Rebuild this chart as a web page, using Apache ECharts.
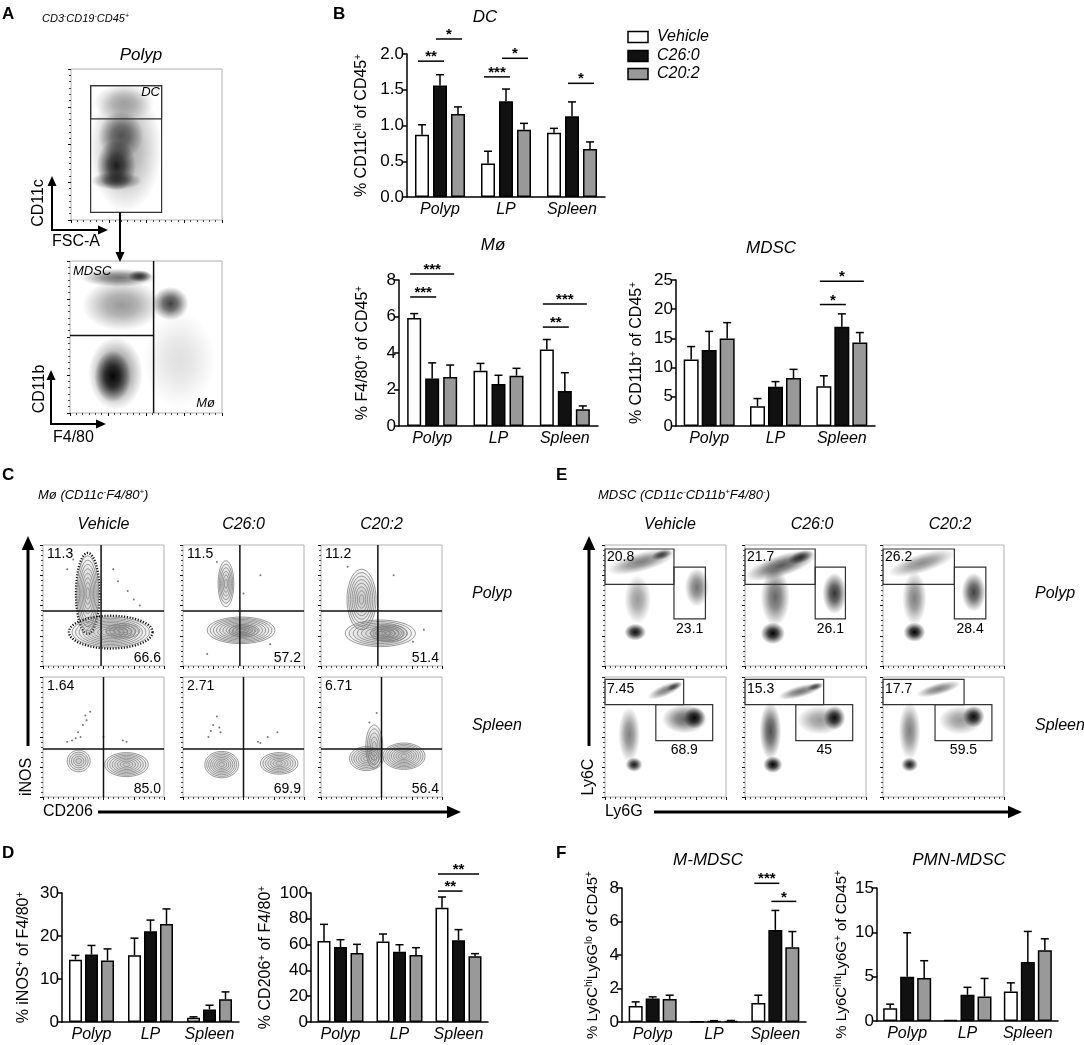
<!DOCTYPE html>
<html>
<head>
<meta charset="utf-8">
<script src="https://cdn.jsdelivr.net/npm/echarts@6/dist/echarts.min.js"></script>
<style>
html,body{margin:0;padding:0;background:#fff;}
#main{width:1084px;height:1045px;}
</style>
</head>
<body>
<div id="main"></div>
<script>
var FONT = "'Liberation Sans', Arial, sans-serif";

// ---- categories
var tissues = ['Polyp', 'LP', 'Spleen'];
var groupNames = ['Vehicle', 'C26:0', 'C20:2'];

// ---- bar data: rows = Vehicle, C26:0, C20:2 ; columns = Polyp, LP, Spleen
var dcMean = [[0.87, 0.47, 0.90], [1.56, 1.34, 1.13], [1.16, 0.94, 0.67]];
var dcSem = [[0.14, 0.17, 0.06], [0.15, 0.17, 0.20], [0.10, 0.09, 0.10]];
var dcSig = [[0, 0, 1, 1.90, '**'], [0, 1, 2, 2.21, '*'], [1, 0, 1, 1.68, '***'], [1, 1, 2, 1.94, '*'], [2, 1, 2, 1.59, '*']];

var macMean = [[5.92, 3.03, 4.19], [2.60, 2.30, 1.92], [2.68, 2.76, 0.92]];
var macSem = [[0.24, 0.40, 0.55], [0.86, 0.48, 1.00], [0.66, 0.40, 0.18]];
var macSig = [[0, 0, 2, 8.33, '***'], [0, 0, 1, 7.07, '***'], [2, 0, 2, 6.68, '***'], [2, 0, 1, 5.42, '**']];

var mdscMean = [[11.4, 3.4, 6.8], [13.0, 6.7, 17.0], [15.0, 8.2, 14.3]];
var mdscSem = [[2.2, 1.3, 1.8], [3.2, 0.9, 2.2], [2.7, 1.5, 1.7]];
var mdscSig = [[2, 0, 2, 24.8, '*'], [2, 0, 1, 20.8, '*']];

var inosMean = [[14.5, 15.5, 1.0], [15.7, 21.1, 2.9], [14.3, 22.8, 5.3]];
var inosSem = [[1.0, 4.0, 0.2], [2.1, 2.6, 1.0], [2.7, 3.5, 1.7]];

var cd206Mean = [[62.8, 62.5, 88.6], [58.1, 54.5, 63.3], [53.5, 51.9, 50.9]];
var cd206Sem = [[12.9, 5.7, 8.3], [5.7, 5.4, 8.3], [6.7, 5.7, 2.1]];
var cd206Sig = [[2, 0, 2, 114.7, '**'], [2, 0, 1, 101.5, '**']];

var mmdscMean = [[0.96, 0.02, 1.14], [1.40, 0.05, 5.50], [1.38, 0.06, 4.46]];
var mmdscSem = [[0.24, 0, 0.46], [0.10, 0.03, 1.16], [0.22, 0.03, 0.94]];
var mmdscSig = [[2, 0, 1, 8.28, '***'], [2, 1, 2, 7.2, '*']];

var pmnMean = [[1.44, 0.10, 3.34], [5.00, 2.96, 6.65], [4.86, 2.77, 7.98]];
var pmnSem = [[0.46, 0, 0.96], [4.95, 0.84, 3.45], [1.94, 2.03, 1.29]];

// ---- flow plots, in % of plot axes: dot clouds [x, y, rx, ry, angle, density]
var aTopClouds = [[36, 47, 24, 42, 0, 0.35], [35, 78, 20, 12, 0, 0.3], [33, 56, 15, 16, 0, 0.55], [30, 36, 13, 17, 0, 0.85], [30, 26, 17, 6, 0, 0.6]];
var aBotClouds = [[72, 35, 24, 32, 0, 0.12], [34, 71, 26, 17, 0, 0.4], [30, 26, 18, 24, 0, 0.55], [28, 24, 12, 17, 0, 0.95], [32, 89, 25, 6, 0, 0.55], [46, 90, 8, 4, 0, 0.75], [66, 72, 12, 11, 0, 0.75]];
var eClouds = [
  [[27, 55, 11, 20, 0, 0.4], [25, 28, 9, 7, 0, 0.95], [30, 86, 29, 8, 15, 0.5], [47, 92, 9, 4, 15, 0.7], [76, 65, 10, 16, 0, 0.55]],
  [[25, 57, 12, 24, 0, 0.6], [23, 27, 10, 9, 0, 1.0], [30, 83, 31, 9, 18, 0.65], [46, 90, 11, 5, 18, 0.75], [74, 60, 10, 17, 0, 0.8]],
  [[26, 56, 10, 22, 0, 0.5], [26, 28, 9, 8, 0, 1.0], [32, 85, 29, 8, 17, 0.45], [75, 61, 10, 16, 0, 0.75]],
  [[20, 52, 9, 23, 0, 0.5], [24, 27, 7, 6, 0, 0.9], [50, 89, 16, 5, 23, 0.5], [57, 92, 7, 3, 23, 0.6], [66, 65, 19, 12, 0, 0.6], [74, 66, 9, 9, 0, 0.95]],
  [[21, 55, 9, 24, 0, 0.7], [23, 27, 8, 7, 0, 1.0], [46, 88, 19, 5, 15, 0.55], [58, 92, 7, 3, 15, 0.65], [62, 64, 19, 12, 0, 0.4], [74, 66, 9, 10, 0, 0.95]],
  [[22, 55, 9, 24, 0, 0.5], [22, 27, 7, 6, 0, 0.9], [46, 90, 19, 5, 15, 0.5], [64, 64, 18, 12, 0, 0.4], [75, 67, 9, 9, 0, 0.95]]
];
// contour clusters [x, y, rx, ry, rings, dotted outline]
var cContours = [
  [[37, 60, 9, 31, 8, 1], [56, 28, 32, 12.5, 10, 1], [66, 29, 14, 6, 4, 0]],
  [[35.5, 68, 6.5, 19, 6, 0], [48, 29.5, 28, 11, 10, 0], [50, 29, 12, 5, 4, 0]],
  [[33.5, 55, 12, 25, 8, 0], [49, 27, 29, 11, 8, 0], [56, 27, 15, 7, 6, 0]],
  [[29.5, 30, 9.5, 9, 5, 0], [69, 27, 18, 10, 8, 0]],
  [[32, 27, 14, 11, 8, 0], [79.5, 28, 15.5, 9, 7, 0]],
  [[44, 42, 7, 18, 5, 0], [37.5, 32, 14, 10, 7, 0], [68.5, 34, 17.5, 11, 9, 0]]
];
var cSparse = [
  [[20, 80], [25, 88], [62, 70], [70, 62], [75, 55], [80, 50], [58, 80]],
  [[28, 86], [50, 60], [64, 75], [72, 18], [20, 10]],
  [[22, 82], [60, 75], [76, 20], [85, 30]],
  [[35, 68], [36, 64], [39, 71], [31, 50], [29, 54], [20, 46], [24, 47], [50, 50], [66, 47], [69, 46], [33, 60], [27, 49]],
  [[28, 67], [25, 60], [21, 50], [31, 54], [70, 50], [78, 54], [62, 46], [64, 45], [30, 58], [23, 55]],
  [[46, 70], [40, 62]]
];
var cQuad = [[48, 45.5], [47, 45.5], [47, 45.5], [50, 40], [50, 40], [50, 40]];
var cQuadNums = [['11.3', '66.6'], ['11.5', '57.2'], ['11.2', '51.4'], ['1.64', '85.0'], ['2.71', '69.9'], ['6.71', '56.4']];
// gates [x0, y0, x1, y1]
var eGates = [
  [[0, 67.5, 57, 96.7], [57, 39, 83, 81.7]],
  [[0, 67.5, 58, 96.7], [58, 39, 83, 81.7]],
  [[0, 67.5, 59, 96.7], [59, 39, 85, 81.7]],
  [[0, 77, 65, 98], [42, 47, 89, 77]],
  [[0, 77, 65, 98], [42, 47, 89, 77]],
  [[0, 77, 67, 98], [43, 47, 90, 77]]
];
var eGateNums = [['20.8', '23.1'], ['21.7', '26.1'], ['26.2', '28.4'], ['7.45', '68.9'], ['15.3', '45'], ['17.7', '59.5']];
var aTopGates = [[13, 5, 60, 89], [13, 67, 60, 89]];
var aBotLines = [[55, 0, 55, 100], [0, 51, 55, 51]];

// ---------------------------------------------------------------
var grids = [], xAxes = [], yAxes = [], series = [], graphics = [];
var barFill = ['#ffffff', '#111111', '#999999'];

function addBarChart(c) {
  var gi = grids.length;
  var step = c.step;
  grids.push({left: c.left, top: c.top, width: c.width, height: c.height});
  xAxes.push({
    gridIndex: gi, type: 'category', data: tissues,
    axisLine: {lineStyle: {color: '#000', width: 1.5}},
    axisTick: {alignWithLabel: true, length: 5, lineStyle: {color: '#000', width: 1.5}},
    axisLabel: {interval: 0, color: '#000', fontSize: 16, fontStyle: 'italic', fontFamily: FONT, margin: 5}
  });
  yAxes.push({
    gridIndex: gi, type: 'value', min: 0, max: c.max, interval: c.interval,
    splitLine: {show: false},
    axisLine: {show: true, lineStyle: {color: '#000', width: 1.5}},
    axisTick: {show: true, length: 5, lineStyle: {color: '#000', width: 1.5}},
    axisLabel: {color: '#000', fontSize: 17, fontFamily: FONT, margin: 3,
      formatter: function (v) { return c.decimals ? v.toFixed(c.decimals) : String(v); }},
    name: c.name, nameLocation: 'middle', nameGap: c.nameGap, nameRotate: 90,
    nameTextStyle: {color: '#000', fontSize: c.nameSize || 16, fontFamily: FONT, lineHeight: 18,
      rich: {s: {fontSize: 10, lineHeight: 10, verticalAlign: 'top', fontFamily: FONT, color: '#000'}}}
  });
  for (var g = 0; g < 3; g++) {
    series.push({
      type: 'bar', xAxisIndex: gi, yAxisIndex: gi, data: c.mean[g], name: groupNames[g],
      barWidth: c.barWidth, barGap: ((step - c.barWidth) / c.barWidth * 100) + '%',
      itemStyle: {color: barFill[g], borderColor: '#000', borderWidth: 1.5}, z: 2, silent: true
    });
  }
  var wData = [];
  for (var g2 = 0; g2 < 3; g2++) {
    for (var t = 0; t < 3; t++) wData.push([t, c.mean[g2][t], c.mean[g2][t] + c.sem[g2][t], g2]);
  }
  series.push({
    type: 'custom', xAxisIndex: gi, yAxisIndex: gi, data: wData, z: 3, silent: true,
    renderItem: function (p, api) {
      var t = api.value(0), g = api.value(3);
      if (api.value(2) - api.value(1) <= 0) return null;
      var a = api.coord([t, api.value(1)]), b = api.coord([t, api.value(2)]);
      var x = a[0] + (g - 1) * step;
      return {type: 'group', children: [
        {type: 'line', shape: {x1: x, y1: a[1], x2: x, y2: b[1]}, style: {stroke: '#000', lineWidth: 1.5}},
        {type: 'line', shape: {x1: x - 4, y1: b[1], x2: x + 4, y2: b[1]}, style: {stroke: '#000', lineWidth: 1.5}}
      ]};
    }
  });
  if (c.sig) {
    var sig = c.sig;
    series.push({
      type: 'custom', xAxisIndex: gi, yAxisIndex: gi, z: 3, silent: true, clip: false,
      data: sig.map(function (s) { return [s[0], s[3]]; }),
      renderItem: function (p, api) {
        var s = sig[p.dataIndex];
        var pt = api.coord([s[0], s[3]]);
        var x1 = pt[0] + (s[1] - 1) * step - 4, x2 = pt[0] + (s[2] - 1) * step + 4;
        return {type: 'group', children: [
          {type: 'line', shape: {x1: x1, y1: pt[1], x2: x2, y2: pt[1]}, style: {stroke: '#000', lineWidth: 1.5}},
          {type: 'text', x: (x1 + x2) / 2, y: pt[1] - 4,
            style: {text: s[4], fontSize: 15, fontWeight: 'bold', fontFamily: FONT, fill: '#000', align: 'center', verticalAlign: 'middle'}}
        ]};
      }
    });
  }
}

function flowAxis(gi) {
  return {
    gridIndex: gi, type: 'value', min: 0, max: 100, interval: 25,
    axisLine: {show: false}, axisLabel: {show: false}, splitLine: {show: false},
    axisTick: {show: true, length: 3, lineStyle: {color: '#111', width: 1}},
    minorTick: {show: true, splitNumber: 6, length: 2, lineStyle: {color: '#444', width: 1}}
  };
}

function addFlow(left, top, w, h) {
  var gi = grids.length;
  grids.push({left: left, top: top, width: w, height: h, show: true, borderColor: '#b0b0b0', borderWidth: 1});
  xAxes.push(flowAxis(gi));
  yAxes.push(flowAxis(gi));
  return gi;
}

function cloudItem(p, api) {
  var c = api.coord([api.value(0), api.value(1)]);
  var s = api.size([api.value(2), api.value(3)]);
  var a = api.value(5);
  return {
    type: 'circle', shape: {cx: 0, cy: 0, r: 1},
    x: c[0], y: c[1], scaleX: s[0], scaleY: s[1], rotation: api.value(4) * Math.PI / 180,
    style: {fill: {type: 'radial', x: 0.5, y: 0.5, r: 0.5, colorStops: [
      {offset: 0, color: 'rgba(0,0,0,' + a + ')'},
      {offset: 0.4, color: 'rgba(0,0,0,' + (a * 0.75) + ')'},
      {offset: 0.75, color: 'rgba(0,0,0,' + (a * 0.3) + ')'},
      {offset: 1, color: 'rgba(0,0,0,0)'}]}}
  };
}

function ring(cx, cy, rx, ry) {
  var pts = [];
  for (var k = 0; k < 40; k++) {
    var t = k / 40 * Math.PI * 2;
    pts.push([cx + rx * Math.cos(t), cy + ry * Math.sin(t)]);
  }
  return pts;
}

function contourItem(p, api) {
  var c = api.coord([api.value(0), api.value(1)]);
  var s = api.size([api.value(2), api.value(3)]);
  var n = api.value(4);
  var kids = [{
    type: 'circle', shape: {cx: 0, cy: 0, r: 1}, x: c[0], y: c[1], scaleX: s[0], scaleY: s[1],
    style: {fill: {type: 'radial', x: 0.5, y: 0.5, r: 0.5, colorStops: [
      {offset: 0, color: 'rgba(90,90,90,0.35)'}, {offset: 1, color: 'rgba(90,90,90,0.05)'}]}}
  }];
  if (api.value(5)) {
    kids.push({type: 'polygon', shape: {points: ring(c[0], c[1], s[0] * 1.08, s[1] * 1.08)},
      style: {fill: 'none', stroke: '#111', lineWidth: 2.4, lineDash: [1.2, 1.6]}});
  }
  for (var k = n; k >= 1; k--) {
    var f = Math.pow(k / n, 0.9);
    kids.push({type: 'polygon', shape: {points: ring(c[0], c[1], s[0] * f, s[1] * f)},
      style: {fill: 'none', stroke: '#7d7d7d', lineWidth: 0.8}});
  }
  return {type: 'group', children: kids};
}

function rectItem(p, api) {
  var a = api.coord([api.value(0), api.value(3)]);
  var b = api.coord([api.value(2), api.value(1)]);
  return {type: 'rect', shape: {x: a[0], y: a[1], width: b[0] - a[0], height: b[1] - a[1]},
    style: {fill: 'none', stroke: '#333', lineWidth: 1.2}};
}

function segItem(p, api) {
  var a = api.coord([api.value(0), api.value(1)]);
  var b = api.coord([api.value(2), api.value(3)]);
  return {type: 'line', shape: {x1: a[0], y1: a[1], x2: b[0], y2: b[1]}, style: {stroke: '#111', lineWidth: 1.5}};
}

function addSeries(gi, type, data, fn, z) {
  series.push({type: type, xAxisIndex: gi, yAxisIndex: gi, data: data, renderItem: fn, z: z, silent: true});
}

function T(x, y, text, o) {
  o = o || {};
  var size = o.size || 16;
  var st = {text: text, fontSize: size, fontFamily: FONT, fontStyle: o.italic ? 'italic' : 'normal',
    fontWeight: o.bold ? 'bold' : 'normal', fill: '#000', align: o.align || 'left', verticalAlign: 'middle',
    lineHeight: size + 2};
  if (o.sup) {
    st.rich = {s: {fontSize: o.sup, lineHeight: o.sup, verticalAlign: 'top', fontFamily: FONT,
      fontStyle: o.italic ? 'italic' : 'normal', fill: '#000'}};
  }
  return {type: 'text', x: x, y: y, rotation: o.rot || 0, z: 20, style: st};
}

function arrow(x1, y1, x2, y2, w, head) {
  var dx = x2 - x1, dy = y2 - y1, L = Math.sqrt(dx * dx + dy * dy), ux = dx / L, uy = dy / L;
  var bx = x2 - ux * head, by = y2 - uy * head, px = -uy * head * 0.45, py = ux * head * 0.45;
  graphics.push({type: 'line', z: 20, shape: {x1: x1, y1: y1, x2: bx, y2: by}, style: {stroke: '#000', lineWidth: w}});
  graphics.push({type: 'polygon', z: 20, shape: {points: [[x2, y2], [bx + px, by + py], [bx - px, by - py]]}, style: {fill: '#000'}});
}

// ---------------- Panel A
var gA1 = addFlow(71, 69, 151, 151);
addSeries(gA1, 'custom', aTopClouds, cloudItem, 1);
addSeries(gA1, 'custom', aTopGates, rectItem, 4);
var gA2 = addFlow(70, 261, 152, 152);
addSeries(gA2, 'custom', aBotClouds, cloudItem, 1);
addSeries(gA2, 'custom', aBotLines, segItem, 4);

graphics.push(T(2, 14, 'A', {size: 17, bold: true}));
graphics.push(T(42, 19, 'CD3{s|-}CD19{s|-}CD45{s|+}', {size: 11, italic: true, sup: 7}));
graphics.push(T(141, 55, 'Polyp', {size: 17, italic: true, align: 'center'}));
graphics.push(T(160, 92, 'DC', {size: 13, italic: true, align: 'right'}));
graphics.push(T(39, 203, 'CD11c', {size: 16, align: 'center', rot: Math.PI / 2}));
graphics.push(T(52, 242, 'FSC-A', {size: 16}));
arrow(52, 230, 52, 176, 2, 10);
arrow(51, 230, 108, 230, 2, 10);
arrow(120, 212, 120, 262, 2, 10);
graphics.push(T(73, 271, 'MDSC', {size: 13, italic: true}));
graphics.push(T(215, 403, 'Mø', {size: 13, italic: true, align: 'right'}));
graphics.push(T(40, 389, 'CD11b', {size: 16, align: 'center', rot: Math.PI / 2}));
graphics.push(T(53, 438, 'F4/80', {size: 16}));
arrow(51, 424, 51, 370, 2, 10);
arrow(50, 424, 106, 424, 2, 10);

// ---------------- Panel B
graphics.push(T(333, 14, 'B', {size: 17, bold: true}));
graphics.push(T(485, 17, 'DC', {size: 17, italic: true, align: 'center'}));
graphics.push(T(493, 245, 'Mø', {size: 17, italic: true, align: 'center'}));
graphics.push(T(771, 248, 'MDSC', {size: 17, italic: true, align: 'center'}));
var legendY = [37, 56, 74];
for (var li = 0; li < 3; li++) {
  graphics.push({type: 'rect', z: 20, shape: {x: 628, y: legendY[li] - 5.5, width: 20, height: 11},
    style: {fill: barFill[li], stroke: '#000', lineWidth: 1.5}});
  graphics.push(T(657, legendY[li], groupNames[li], {size: 16, italic: true}));
}
addBarChart({left: 407, top: 54, width: 198, height: 143, max: 2, interval: 0.5, decimals: 1,
  barWidth: 14, step: 18, nameGap: 36, name: '% CD11c{s|hi} of CD45{s|+}', mean: dcMean, sem: dcSem, sig: dcSig});
addBarChart({left: 399, top: 280, width: 199, height: 146, max: 8, interval: 2,
  barWidth: 14, step: 18, nameGap: 27, name: '% F4/80{s|+} of CD45{s|+}', mean: macMean, sem: macSem, sig: macSig});
addBarChart({left: 676, top: 280, width: 199, height: 146, max: 25, interval: 5,
  barWidth: 15, step: 18, nameGap: 30, name: '% CD11b{s|+} of CD45{s|+}', mean: mdscMean, sem: mdscSem, sig: mdscSig});

// ---------------- Panel C
var colL = [43, 183, 321], rowT = [545, 677], rowH = [121, 120];
graphics.push(T(2, 475, 'C', {size: 17, bold: true}));
graphics.push(T(38, 495, 'Mø (CD11c{s|-}F4/80{s|+})', {size: 13, italic: true, sup: 8}));
for (var ci = 0; ci < 6; ci++) {
  var r = Math.floor(ci / 3), col = ci % 3;
  var L = colL[col], Tp = rowT[r], H = rowH[r];
  var g = addFlow(L, Tp, 121, H);
  addSeries(g, 'custom', cContours[ci], contourItem, 1);
  series.push({type: 'scatter', xAxisIndex: g, yAxisIndex: g, data: cSparse[ci], symbolSize: 2,
    itemStyle: {color: '#555'}, silent: true, z: 2});
  var q = cQuad[ci];
  addSeries(g, 'custom', [[q[0], 0, q[0], 100], [0, q[1], 100, q[1]]], segItem, 4);
  graphics.push(T(L + 4, Tp + 9, cQuadNums[ci][0], {size: 14}));
  graphics.push(T(L + 118, Tp + H - 8, cQuadNums[ci][1], {size: 14, align: 'right'}));
}
graphics.push(T(103.5, 525, 'Vehicle', {size: 16, italic: true, align: 'center'}));
graphics.push(T(243.5, 525, 'C26:0', {size: 16, italic: true, align: 'center'}));
graphics.push(T(381.5, 525, 'C20:2', {size: 16, italic: true, align: 'center'}));
graphics.push(T(472, 594, 'Polyp', {size: 16, italic: true}));
graphics.push(T(472, 726, 'Spleen', {size: 16, italic: true}));
arrow(28, 746, 28, 536, 3, 14);
graphics.push(T(27, 777, 'iNOS', {size: 16, align: 'center', rot: Math.PI / 2}));
graphics.push(T(43, 812, 'CD206', {size: 16}));
arrow(98, 812, 461, 812, 3, 14);

// ---------------- Panel E
var colE = [605, 745, 883];
graphics.push(T(556, 475, 'E', {size: 17, bold: true}));
graphics.push(T(598, 495, 'MDSC (CD11c{s|-}CD11b{s|+}F4/80{s|-})', {size: 13, italic: true, sup: 8}));
for (var ei = 0; ei < 6; ei++) {
  var r2 = Math.floor(ei / 3), col2 = ei % 3;
  var L2 = colE[col2], T2 = rowT[r2], H2 = rowH[r2];
  var g2 = addFlow(L2, T2, 121, H2);
  addSeries(g2, 'custom', eClouds[ei], cloudItem, 1);
  addSeries(g2, 'custom', eGates[ei], rectItem, 4);
  var gate = eGates[ei][1];
  graphics.push(T(L2 + 2, T2 + 12, eGateNums[ei][0], {size: 14}));
  graphics.push(T(L2 + 121 * (gate[0] + gate[2]) / 200, T2 + H2 * (1 - gate[1] / 100) + 10, eGateNums[ei][1], {size: 14, align: 'center'}));
}
graphics.push(T(670, 525, 'Vehicle', {size: 16, italic: true, align: 'center'}));
graphics.push(T(812, 525, 'C26:0', {size: 16, italic: true, align: 'center'}));
graphics.push(T(950, 525, 'C20:2', {size: 16, italic: true, align: 'center'}));
graphics.push(T(1035, 594, 'Polyp', {size: 16, italic: true}));
graphics.push(T(1035, 726, 'Spleen', {size: 16, italic: true}));
arrow(589, 746, 589, 536, 3, 14);
graphics.push(T(589, 777, 'Ly6C', {size: 16, align: 'center', rot: Math.PI / 2}));
graphics.push(T(605, 812, 'Ly6G', {size: 16}));
arrow(654, 812, 1022, 812, 3, 14);

// ---------------- Panel D
graphics.push(T(2, 853, 'D', {size: 17, bold: true}));
addBarChart({left: 62, top: 893, width: 177, height: 129, max: 30, interval: 10,
  barWidth: 13, step: 16, nameGap: 29, name: '% iNOS{s|+} of F4/80{s|+}', mean: inosMean, sem: inosSem});
addBarChart({left: 311, top: 893, width: 177, height: 129, max: 100, interval: 20,
  barWidth: 13, step: 16.5, nameGap: 36, name: '% CD206{s|+} of F4/80{s|+}', mean: cd206Mean, sem: cd206Sem, sig: cd206Sig});

// ---------------- Panel F
graphics.push(T(556, 853, 'F', {size: 17, bold: true}));
graphics.push(T(708, 860, 'M-MDSC', {size: 17, italic: true, align: 'center'}));
graphics.push(T(959, 860, 'PMN-MDSC', {size: 17, italic: true, align: 'center'}));
addBarChart({left: 622, top: 888, width: 184, height: 134, max: 8, interval: 2,
  barWidth: 14, step: 17, nameGap: 20, nameSize: 15, name: '% Ly6C{s|hi}Ly6G{s|lo} of CD45{s|+}', mean: mmdscMean, sem: mmdscSem, sig: mmdscSig});
addBarChart({left: 877, top: 888, width: 181, height: 133, max: 15, interval: 5,
  barWidth: 14, step: 17, nameGap: 26, nameSize: 15, name: '% Ly6C{s|int}Ly6G{s|+} of CD45{s|+}', mean: pmnMean, sem: pmnSem});

var chart = echarts.init(document.getElementById('main'));
chart.setOption({
  backgroundColor: '#fff',
  animation: false,
  grid: grids,
  xAxis: xAxes,
  yAxis: yAxes,
  series: series,
  graphic: {elements: graphics}
});
</script>
</body>
</html>
